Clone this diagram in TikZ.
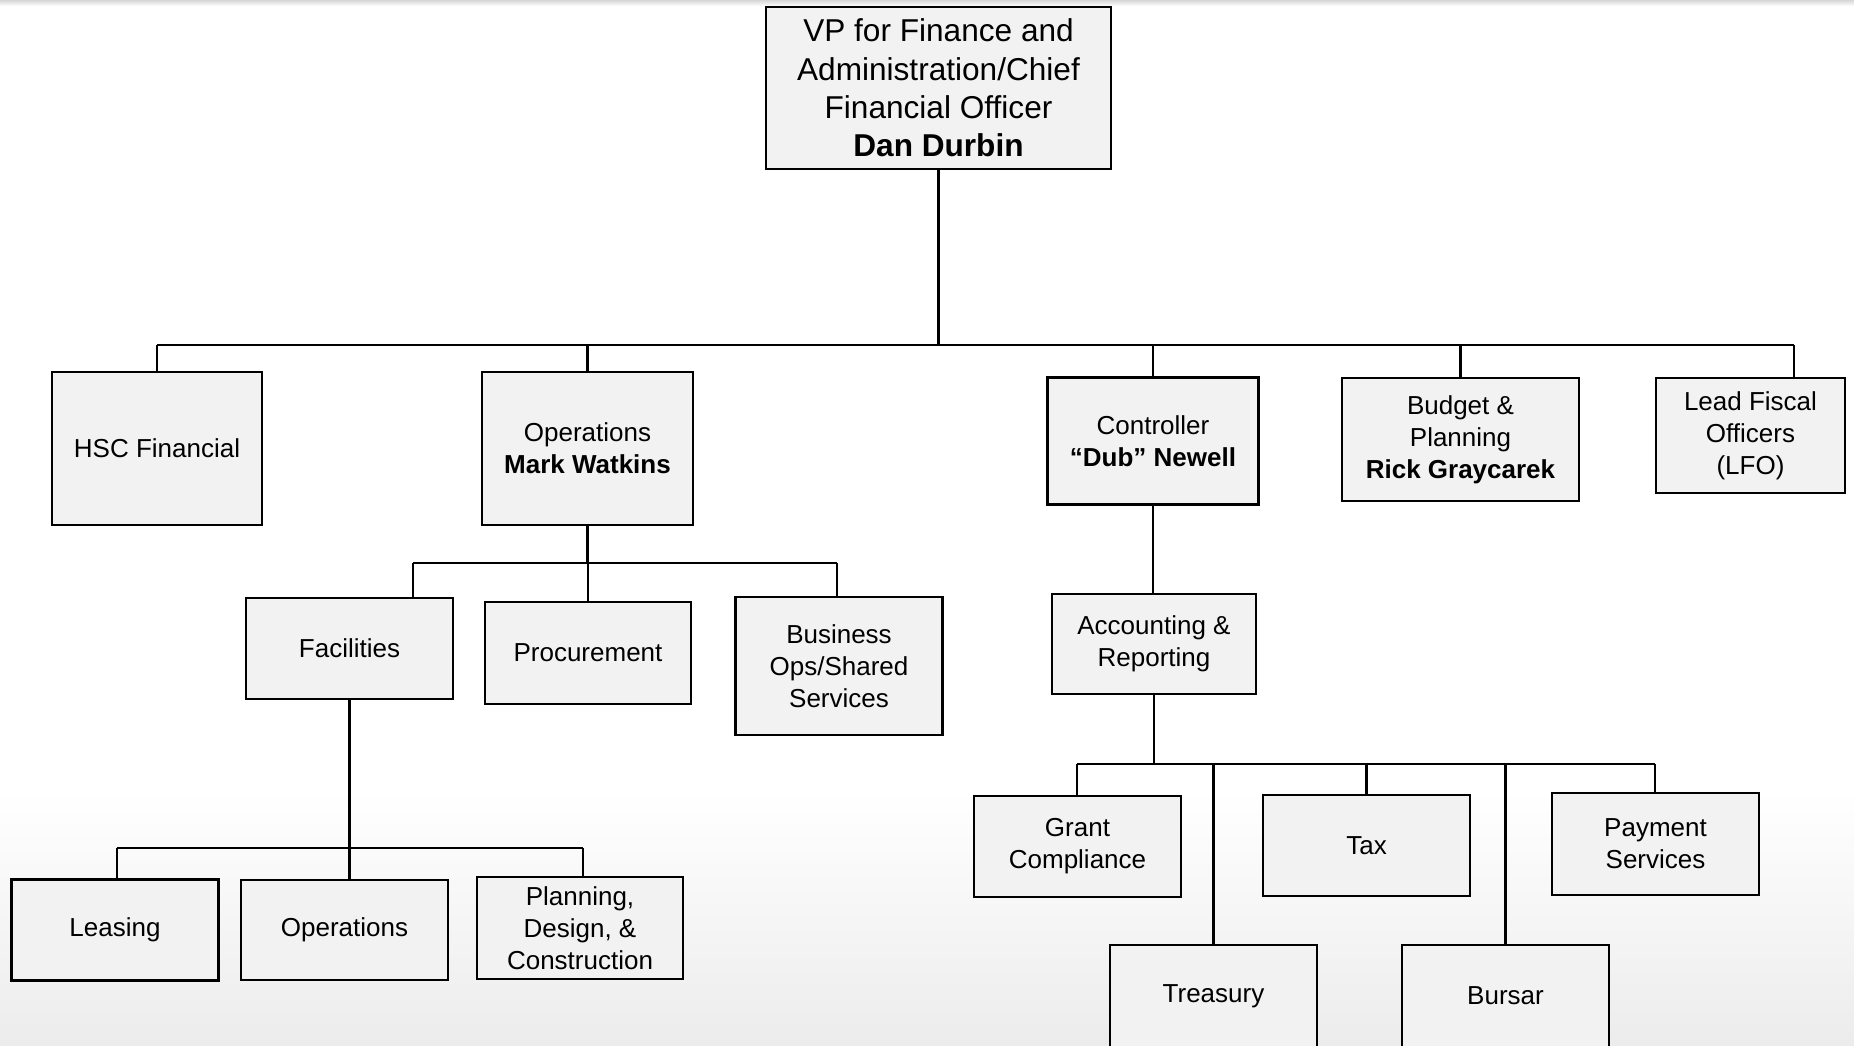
\documentclass[tikz,border=0pt]{standalone}
\usepackage{fontspec}
\setmainfont{Liberation Sans}
\definecolor{boxfill}{RGB}{242,242,242}
\definecolor{floorgray}{RGB}{236,236,236}
\definecolor{edgegray}{RGB}{214,214,214}

\begin{document}
\begin{tikzpicture}[x=0.5pt, y=-0.5pt,
    box style/.style={draw=black, line width=1.1pt, fill=boxfill, inner sep=0pt,
        align=center, font=\fontsize{13}{16}\selectfont},
    line style/.style={draw=black, line width=1.2pt},
    boxsize/.style 2 args={minimum width=#1*0.5pt, minimum height=#2*0.5pt},]
    \useasboundingbox (0,0) rectangle (1854,1045);
    \clip (0,0) rectangle (1854,1045);

    % page background
    \fill[white] (0,0) rectangle (1854,1045);
    \shade[top color=white, bottom color=floorgray] (0,790) rectangle (1854,1045);
    \shade[top color=edgegray, bottom color=white] (0,0) rectangle (1854,6);

    % top
    \node[box style, boxsize={345}{162}, font=\fontsize{15.8}{19.2}\selectfont] (vp) at (938.5,88)
        {VP for Finance and\\Administration/Chief\\Financial Officer\\\textbf{Dan Durbin}};

    % first level
    \node[box style, boxsize={210}{153}] (hsc) at (157,448.5) {HSC Financial};
    \node[box style, boxsize={211}{153}] (ops) at (587.5,448.5) {Operations\\\textbf{Mark Watkins}};
    \node[box style, boxsize={211}{127}] (ctrl) at (1153,441) {Controller\\\textbf{“Dub” Newell}};
    \node[box style, boxsize={237}{123}] (budget) at (1460.5,439.5) {Budget \&\\Planning\\\textbf{Rick Graycarek}};
    \node[box style, boxsize={189}{115}] (lfo) at (1750.5,435.5) {Lead Fiscal\\Officers\\(LFO)};

    % operations branch
    \node[box style, boxsize={207}{101}] (fac) at (349.5,648.5) {Facilities};
    \node[box style, boxsize={206}{102}] (proc) at (588,653) {Procurement};
    \node[box style, boxsize={207}{138}] (bos) at (839,666) {Business\\Ops/Shared\\Services};
    \node[box style, boxsize={207}{101}] (lease) at (115,930) {Leasing};
    \node[box style, boxsize={207}{100}] (facops) at (344.5,930) {Operations};
    \node[box style, boxsize={206}{102}] (pdc) at (580,928) {Planning,\\Design, \&\\Construction};

    % controller branch
    \node[box style, boxsize={204}{100}] (acc) at (1154,644) {Accounting \&\\Reporting};
    \node[box style, boxsize={207}{101}] (grant) at (1077.5,846.5) {Grant\\Compliance};
    \node[box style, boxsize={207}{101}] (tax) at (1366.5,845.5) {Tax};
    \node[box style, boxsize={207}{102}] (pay) at (1655.5,844) {Payment\\Services};
    \node[box style, boxsize={207}{102}] (treas) at (1213.5,996) {Treasury};
    \node[box style, boxsize={207}{102}] (bursar) at (1505.5,996) {Bursar};

    \coordinate (busA l) at (157,345);
    \coordinate (busA r) at (1794,345);
    \coordinate (busB l) at (413,563);
    \coordinate (busB r) at (837,563);
    \coordinate (busC l) at (117,848);
    \coordinate (busC r) at (583,848);
    \coordinate (busD l) at (1077,764);
    \coordinate (busD r) at (1655,764);

    \draw[style=line style] (vp.south) -- (vp.south |- busA l);
    \draw[style=line style] (busA l) -- (busA r);
    \draw[style=line style] (hsc.north) -- (hsc.north |- busA l);
    \draw[style=line style] (ops.north) -- (ops.north |- busA l);
    \draw[style=line style] (ctrl.north) -- (ctrl.north |- busA l);
    \draw[style=line style] (budget.north) -- (budget.north |- busA l);
    \draw[style=line style] (busA r) -- (busA r |- lfo.north);

    \draw[style=line style] (ops.south) -- (ops.south |- busB l);
    \draw[style=line style] (busB l) -- (busB r);
    \draw[style=line style] (busB l) -- (busB l |- fac.north);
    \draw[style=line style] (proc.north) -- (proc.north |- busB l);
    \draw[style=line style] (busB r) -- (busB r |- bos.north);

    \draw[style=line style] (fac.south) -- (fac.south |- facops.north);
    \draw[style=line style] (busC l) -- (busC r);
    \draw[style=line style] (busC l) -- (busC l |- lease.north);
    \draw[style=line style] (busC r) -- (busC r |- pdc.north);

    \draw[style=line style] (ctrl.south) -- (ctrl.south |- acc.north);
    \draw[style=line style] (acc.south) -- (acc.south |- busD l);
    \draw[style=line style] (busD l) -- (busD r);
    \draw[style=line style] (busD l) -- (busD l |- grant.north);
    \draw[style=line style] (tax.north) -- (tax.north |- busD l);
    \draw[style=line style] (busD r) -- (busD r |- pay.north);
    \draw[style=line style] (treas.north) -- (treas.north |- busD l);
    \draw[style=line style] (bursar.north) -- (bursar.north |- busD l);

\end{tikzpicture}
\end{document}
